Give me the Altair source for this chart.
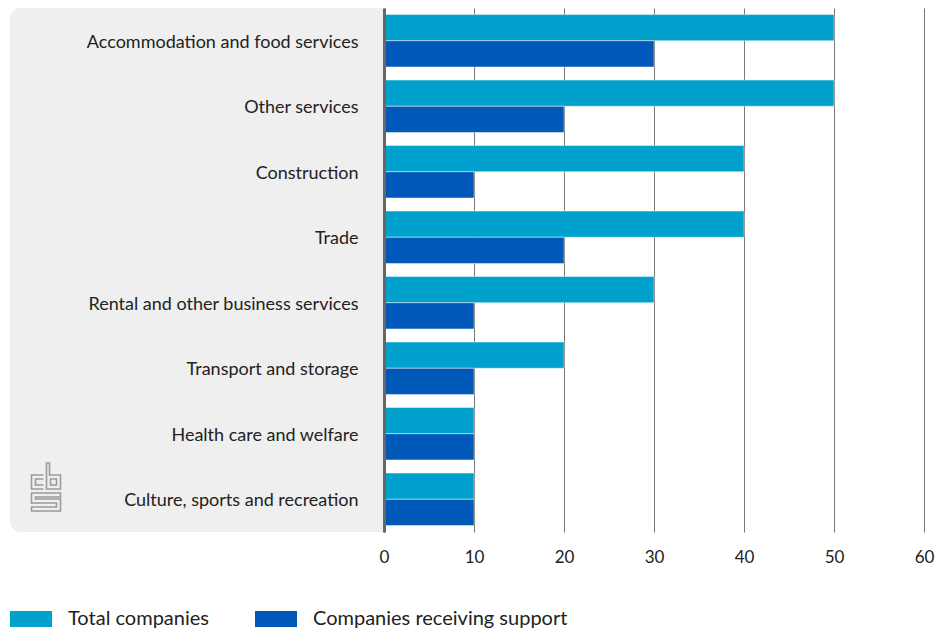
import altair as alt
import pandas as pd

categories = [
    "Accommodation and food services",
    "Other services",
    "Construction",
    "Trade",
    "Rental and other business services",
    "Transport and storage",
    "Health care and welfare",
    "Culture, sports and recreation",
]
series_names = ["Total companies", "Companies receiving support"]
total_companies = [50, 50, 40, 40, 30, 20, 10, 10]
receiving_support = [30, 20, 10, 20, 10, 10, 10, 10]
colors = ["#00a1cd", "#0058b8"]

rows = []
for c, t, s in zip(categories, total_companies, receiving_support):
    rows.append({"category": c, "series": series_names[0], "value": t})
    rows.append({"category": c, "series": series_names[1], "value": s})
df = pd.DataFrame(rows)

FONT = "Lato"

# logo path (approximate CBS mark), in px then normalised
logo_px = [
    "M14,12 L2,12 L2,26 L14,26",
    "M14,16 L6,16 L6,22 L14,22",
    "M17,0 L20,0 L20,12 L31,12 L31,26 L17,26 Z",
    "M21,16 L27,16 L27,22 L21,22 Z",
    "M31,30 L2,30 L2,40 L27,40 L27,44 L2,44 L2,48 L31,48 L31,36 L6,36 L6,34 L31,34 Z",
]


def norm(path):
    out = []
    for tok in path.split():
        if tok[0] in "MLZ":
            cmd = tok[0]
            rest = tok[1:]
            if rest:
                x, y = rest.split(",")
                out.append(f"{cmd}{(float(x) - 15.5) / 24:.3f},{(float(y) - 24) / 24:.3f}")
            else:
                out.append(cmd)
    return " ".join(out)


logo_path = " ".join(norm(p) for p in logo_px)

H = 524
W = 540

panel = alt.Chart(alt.Data(values=[{}])).mark_rect(
    color="#efefef", cornerRadiusTopLeft=10, cornerRadiusBottomLeft=10
).encode(
    x=alt.value(-374), x2=alt.value(0), y=alt.value(0), y2=alt.value(H)
)

logo = alt.Chart(alt.Data(values=[{}])).mark_point(
    shape=logo_path, filled=False, stroke="#9a9a9a", strokeWidth=1.6, size=48 * 48, opacity=1
).encode(x=alt.value(-339), y=alt.value(479))

bars = alt.Chart(df).mark_bar(stroke="#ffffff", strokeWidth=1, strokeOpacity=0.45).encode(
    y=alt.Y(
        "category:N",
        sort=categories,
        title=None,
        scale=alt.Scale(paddingInner=0.2, paddingOuter=0.1),
        axis=alt.Axis(
            ticks=False,
            domainColor="#666666",
            domainWidth=3,
            labelFont=FONT,
            labelFontSize=18,
            labelColor="#222222",
            labelPadding=26,
            labelOffset=2,
            labelLimit=400,
            zindex=1,
            grid=False,
        ),
    ),
    yOffset=alt.YOffset("series:N", sort=series_names, scale=alt.Scale(domain=series_names, paddingInner=0)),
    x=alt.X(
        "value:Q",
        title=None,
        scale=alt.Scale(domain=[0, 60], nice=False),
        axis=alt.Axis(
            values=[0, 10, 20, 30, 40, 50, 60],
            domain=False,
            ticks=False,
            grid=True,
            gridColor="#777777",
            gridWidth=1,
            labelFont=FONT,
            labelFontSize=17,
            labelColor="#222222",
            labelPadding=17,
            labelFlush=False,
            format="d",
        ),
    ),
    color=alt.Color(
        "series:N",
        scale=alt.Scale(domain=series_names, range=colors),
        title=None,
        legend=alt.Legend(
            orient="none",
            legendX=-374,
            legendY=590,
            direction="horizontal",
            symbolType="M-1,-0.38L1,-0.38L1,0.38L-1,0.38Z",
            symbolSize=42 * 42,
            symbolStrokeWidth=0,
            symbolOpacity=1,
            labelFont=FONT,
            labelFontSize=20,
            labelColor="#222222",
            labelOffset=16,
            columnPadding=46,
            labelLimit=400,
            padding=0,
        ),
    ),
)

chart = alt.layer(panel, logo, bars).properties(
    width=W,
    height=H,
    autosize=alt.AutoSizeParams(type="none"),
    padding={"left": 376, "top": 0, "right": 11, "bottom": 100},
).configure_view(stroke=None)

chart.save("out.html", embed_options={"renderer": "svg", "actions": False})
